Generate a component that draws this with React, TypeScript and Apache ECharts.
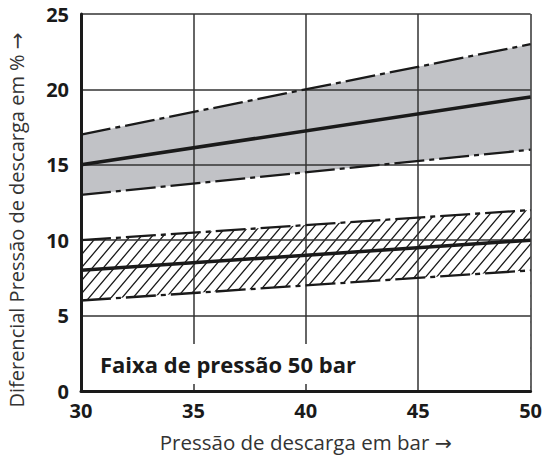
import React, { useEffect, useRef } from "react";
import * as echarts from "echarts";

const xValues = [30, 50];
const grayUpper = [17, 23];
const grayMiddle = [15, 19.5];
const grayLower = [13, 16];
const hatchUpper = [10, 12];
const hatchMiddle = [8, 10];
const hatchLower = [6, 8];

const xAxisTitle = "Pressão de descarga em bar →";
const yAxisTitle = "Diferencial Pressão de descarga em % →";
const bandLabel = "Faixa de pressão 50 bar";

const FONT = "'Open Sans', 'DejaVu Sans', sans-serif";
const INK = "#1a1a1a";

function pairs(ys: number[]) {
  return xValues.map((x, i) => [x, ys[i]]);
}

function makeHatch() {
  const w = 11;
  const h = 13;
  const c = document.createElement("canvas");
  c.width = w;
  c.height = h;
  const ctx = c.getContext("2d")!;
  ctx.fillStyle = "#ffffff";
  ctx.fillRect(0, 0, w, h);
  ctx.strokeStyle = INK;
  ctx.lineWidth = 1.3;
  ctx.beginPath();
  for (const dx of [-w, 0, w]) {
    ctx.moveTo(dx - w, 2 * h);
    ctx.lineTo(dx + 2 * w, -h);
  }
  ctx.stroke();
  return { image: c, repeat: "repeat", imageWidth: w, imageHeight: h };
}

export default function App() {
  const ref = useRef<HTMLDivElement>(null);
  useEffect(() => {
    if (!ref.current) return;
    const chart = echarts.init(ref.current, null, { renderer: "svg" });
    const dashDot = [30, 5, 5, 5];
    const hiddenLine = { width: 0, opacity: 0 };
    const fill = (ys: number[], color: any, z: number) => ({
      type: "line",
      data: pairs(ys),
      symbol: "none",
      silent: true,
      z,
      lineStyle: hiddenLine,
      areaStyle: { color, opacity: 1, origin: "start" },
    });
    const boundary = (ys: number[]) => ({
      type: "line",
      data: pairs(ys),
      symbol: "none",
      silent: true,
      z: 5,
      lineStyle: { color: INK, width: 2.3, type: dashDot },
    });
    const middle = (ys: number[]) => ({
      type: "line",
      data: pairs(ys),
      symbol: "none",
      silent: true,
      z: 5,
      lineStyle: { color: INK, width: 3.5, type: "solid" },
    });
    chart.setOption({
      animation: false,
      grid: { left: 81, right: 12, top: 14, bottom: 69, containLabel: false },
      xAxis: {
        type: "value",
        min: 30,
        max: 50,
        interval: 5,
        z: 3,
        axisLine: { show: true, onZero: false, lineStyle: { color: INK, width: 3 } },
        axisTick: { show: false },
        splitLine: { show: true, lineStyle: { color: "#333", width: 1.5 } },
        axisLabel: { fontSize: 20, fontWeight: "bold", color: INK, margin: 9, fontFamily: FONT },
        name: xAxisTitle,
        nameLocation: "middle",
        nameGap: 40,
        nameTextStyle: { fontSize: 20.5, color: "#333", fontFamily: FONT },
      },
      yAxis: {
        type: "value",
        min: 0,
        max: 25,
        interval: 5,
        z: 3,
        axisLine: { show: true, onZero: false, lineStyle: { color: INK, width: 3 } },
        axisTick: { show: false },
        splitLine: { show: true, lineStyle: { color: "#333", width: 1.5 } },
        axisLabel: { fontSize: 20, fontWeight: "bold", color: INK, margin: 12, fontFamily: FONT },
      },
      series: [
        fill(grayUpper, "#c1c2c6", 1),
        fill(grayLower, "#ffffff", 1.2),
        fill(hatchUpper, makeHatch(), 1.4),
        fill(hatchLower, "#ffffff", 1.6),
        boundary(grayUpper),
        boundary(grayLower),
        middle(grayMiddle),
        boundary(hatchUpper),
        boundary(hatchLower),
        middle(hatchMiddle),
      ],
      graphic: [
        {
          type: "text",
          x: 16,
          y: 220,
          rotation: Math.PI / 2,
          z: 10,
          style: {
            text: yAxisTitle,
            fontSize: 20,
            fontFamily: FONT,
            fill: "#333",
            align: "center",
            verticalAlign: "middle",
          },
        },
        {
          type: "text",
          x: 96,
          y: 364,
          z: 100,
          style: {
            text: bandLabel,
            fontSize: 22,
            fontWeight: "bold",
            fontFamily: FONT,
            fill: INK,
            align: "left",
            verticalAlign: "middle",
            backgroundColor: "#fff",
            padding: [9, 4],
          },
        },
      ],
    });
    return () => chart.dispose();
  }, []);
  return <div ref={ref} style={{ width: 545, height: 460, position: "absolute", left: 0, top: 0 }} />;
}
